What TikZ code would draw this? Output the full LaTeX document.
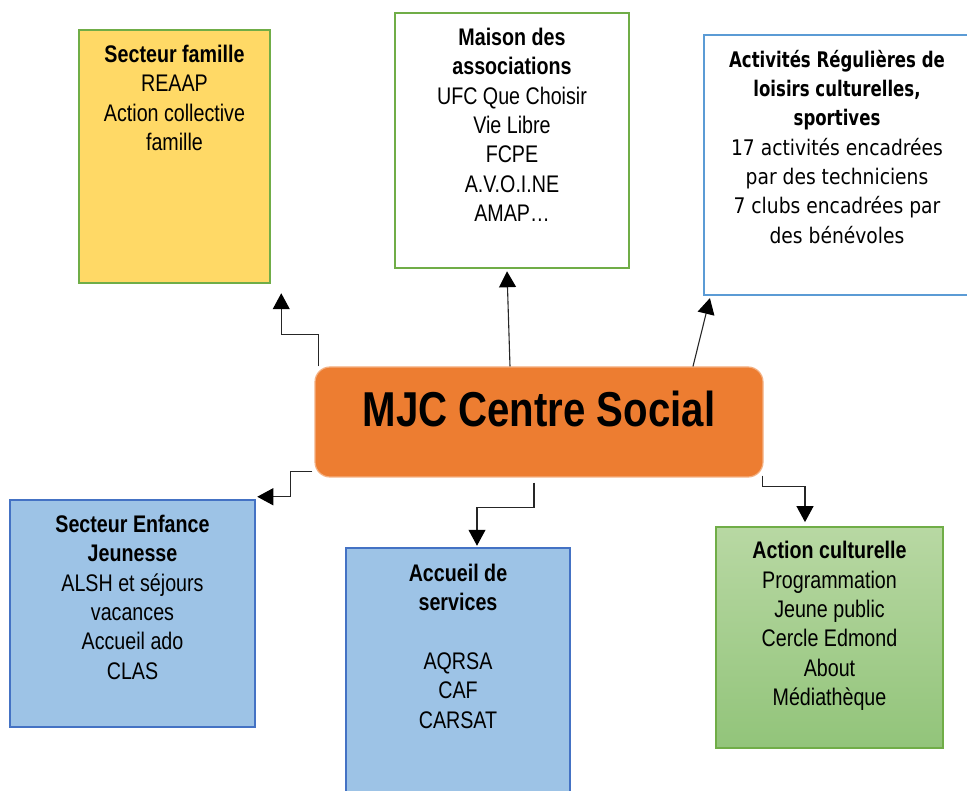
\documentclass[tikz,border=0pt]{standalone}
\usepackage{fontspec}
\setmainfont{Liberation Sans}[FakeStretch=0.82]
\newfontfamily\actfont{DejaVu Sans}[FakeStretch=0.87]
\newfontfamily\acttitlefont{DejaVu Sans}[FakeStretch=0.77]
\usepackage{xcolor}
\usepackage{tikz}
\usetikzlibrary{arrows.meta,positioning}

\definecolor{jaune}{HTML}{FFD966}
\definecolor{vert}{HTML}{70AD47}
\definecolor{bleuclair}{HTML}{5B9BD5}
\definecolor{bleu}{HTML}{9DC3E6}
\definecolor{bleufonce}{HTML}{4472C4}
\definecolor{orange}{HTML}{ED7D31}
\definecolor{orangeclair}{HTML}{F4B183}
\definecolor{verthaut}{HTML}{B8D8A3}
\definecolor{vertbas}{HTML}{92C47A}

\begin{document}
\begin{tikzpicture}[x=1pt, y=-1pt,
    box/.style={draw, rectangle, inner sep=0pt},
    txt/.style={align=center, inner sep=0pt, font=\fontsize{24}{29.4}\selectfont},
    fleche/.style={draw=black!85, line width=1.1pt, -{Triangle[length=16pt,width=17pt,black]}}]
    \useasboundingbox (0,0) rectangle (967,791);
    % les cases
    \node (famille) at (174.5,156.5) [box, fill=jaune, draw=vert, line width=2.5pt, minimum width=191pt, minimum height=253pt] {};
    \node (maison) at (512,140.5) [box, fill=white, draw=vert, line width=2.5pt, minimum width=234pt, minimum height=255pt] {};
    \node (activites) at (837,165) [box, fill=white, draw=bleuclair, line width=2.2pt, minimum width=266pt, minimum height=260pt] {};
    \node (mjc) at (539,422) [box, fill=orange, draw=orangeclair, line width=1.2pt, rounded corners=15pt, minimum width=448pt, minimum height=110pt] {};
    \node (enfance) at (132.5,613.5) [box, fill=bleu, draw=bleufonce, line width=2.5pt, minimum width=245pt, minimum height=227pt] {};
    \node (accueil) at (458,674) [box, fill=bleu, draw=bleufonce, line width=2.5pt, minimum width=224pt, minimum height=252pt] {};
    \node (culture) at (829.5,637.5) [box, top color=verthaut, bottom color=vertbas, draw=vert, line width=1.8pt, minimum width=227pt, minimum height=221pt] {};
    % les textes
    \node (famille txt) [txt, below=16pt of famille.north] {\textbf{Secteur famille}\\REAAP\\Action collective\\famille};
    \node (maison txt) [txt, below=16pt of maison.north] {\textbf{Maison des}\\\textbf{associations}\\UFC Que Choisir\\Vie Libre\\FCPE\\A.V.O.I.NE\\AMAP\dots};
    \node (activites txt) [txt, font=\actfont\fontsize{21.5}{29.3}\selectfont, below=16pt of activites.north] {{\acttitlefont\bfseries Activités Régulières de}\\{\acttitlefont\bfseries loisirs culturelles,}\\{\acttitlefont\bfseries sportives}\\17 activités encadrées\\par des techniciens\\7 clubs encadrées par\\des bénévoles};
    \node (mjc txt) at (mjc.center) [anchor=base, yshift=-5pt, inner sep=0pt, font=\fontsize{49}{58}\selectfont\bfseries] {MJC Centre Social};
    \node (enfance txt) [txt, below=16pt of enfance.north] {\textbf{Secteur Enfance}\\\textbf{Jeunesse}\\ALSH et séjours\\vacances\\Accueil ado\\CLAS};
    \node (accueil txt) [txt, below=17pt of accueil.north] {\textbf{Accueil de}\\\textbf{services}\\~\\AQRSA\\CAF\\CARSAT};
    \node (culture txt) [txt, below=15pt of culture.north] {\textbf{Action culturelle}\\Programmation\\Jeune public\\Cercle Edmond\\About\\Médiathèque};
    % les fleches
    \draw [fleche] ([xshift=4pt]mjc.north west) -- ++(0,-32) -| ([xshift=10pt,yshift=-9pt]famille.south east);
    \draw [fleche] ([xshift=-29pt]mjc.north) -- ([xshift=-5pt,yshift=-2pt]maison.south);
    \draw [fleche] ([xshift=154pt]mjc.north) -- ([xshift=7pt,yshift=-2pt]activites.south west);
    \draw [fleche] ([xshift=-2pt,yshift=6pt]mjc.south west) -- ++(-22,0) |- ([xshift=1pt,yshift=2pt]enfance.north east);
    \draw [fleche] ([xshift=-5pt,yshift=-5pt]mjc.south) -- ++(0,25) -| ([xshift=19pt,yshift=1pt]accueil.north);
    \draw [fleche] ([xshift=-1pt,yshift=2pt]mjc.south east) -- ++(0,11) -| ([xshift=-24.5pt,yshift=4pt]culture.north);
\end{tikzpicture}
\end{document}
